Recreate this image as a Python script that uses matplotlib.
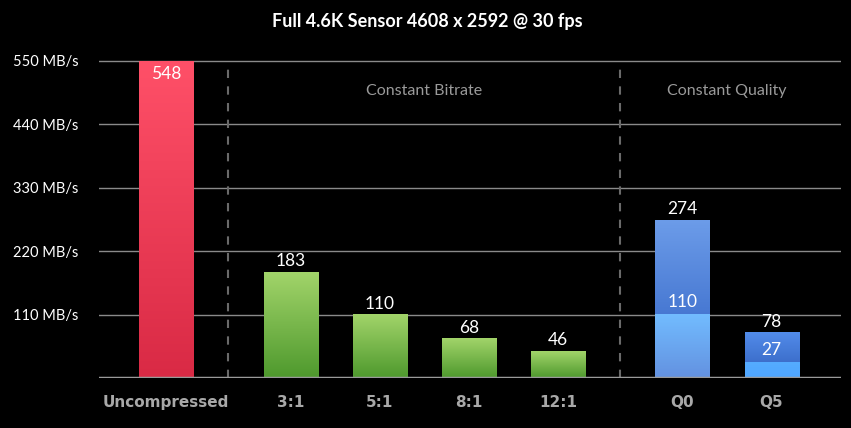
import numpy as np
import matplotlib.pyplot as plt
from matplotlib.colors import LinearSegmentedColormap

plt.rcParams['font.family'] = ['Lato', 'DejaVu Sans']

# data
categories = ['Uncompressed', '3:1', '5:1', '8:1', '12:1', 'Q0', 'Q5']
totals = [548, 183, 110, 68, 46, 274, 78]
lower_parts = [None, None, None, None, None, 110, 27]  # lighter lower segment for Q bars
yticks = [110, 220, 330, 440, 550]
ytick_labels = ['110 MB/s', '220 MB/s', '330 MB/s', '440 MB/s', '550 MB/s']
sections = ['Constant Bitrate', 'Constant Quality']

xpos = [0, 1.4, 2.4, 3.4, 4.4, 5.8, 6.8]
width = 0.607

# gradient colours (top, bottom)
red = ('#ff5068', '#d92a45')
green = ('#a2d46a', '#4e992d')
blue_top = ('#6c9ce9', '#4778d2')
blue_low = ('#72bcff', '#6391e0')
blue_top_q5 = ('#528cea', '#3d6fcc')
blue_low_q5 = ('#55acff', '#4fa6ff')

px_per_unit = 0.577
fig = plt.figure(figsize=(8.51, 4.28), dpi=100, facecolor='black')
ax = fig.add_axes([99/851, 50/428, (841-99)/851, 600*px_per_unit/428])
ax.set_facecolor('black')

xmin, xmax = -0.753, 7.58


def grad_bar(x, y0, y1, cols):
    cmap = LinearSegmentedColormap.from_list('g', [cols[1], cols[0]])
    grad = np.linspace(0, 1, 256).reshape(-1, 1)
    ax.imshow(grad, cmap=cmap, origin='lower', aspect='auto',
              extent=[x - width/2, x + width/2, y0, y1], zorder=3)


for yt in yticks:
    ax.axhline(yt, color='#8a8a8a', lw=1, zorder=1)

for i, (x, v) in enumerate(zip(xpos, totals)):
    if i == 0:
        grad_bar(x, 0, v, red)
        ax.text(x, v - 22, str(v), color='white', ha='center', va='center', fontsize=12.5, zorder=5)
    elif lower_parts[i] is None:
        grad_bar(x, 0, v, green)
        ax.text(x, v + 19, str(v), color='white', ha='center', va='center', fontsize=12.5, zorder=5)
    else:
        lo = lower_parts[i]
        if categories[i] == 'Q0':
            grad_bar(x, lo, v, blue_top)
            grad_bar(x, 0, lo, blue_low)
        else:
            grad_bar(x, lo, v, blue_top_q5)
            grad_bar(x, 0, lo, blue_low_q5)
        ax.text(x, v + 19, str(v), color='white', ha='center', va='center', fontsize=12.5, zorder=5)
        ax.text(x, lo + 21, str(lo), color='white', ha='center', va='center', fontsize=12.5, zorder=5)

ax.set_xlim(xmin, xmax)
ax.set_ylim(0, 600)

# section separators
for sx in [0.7, 5.1]:
    ax.plot([sx, sx], [0, 548], color='#6a6a6a', lw=1.5, ls=(0, (4, 4)), zorder=2)

ax.text(2.9, 498, sections[0], color='#9a9a9a', ha='center', va='center', fontsize=11.5)
ax.text(6.3, 498, sections[1], color='#9a9a9a', ha='center', va='center', fontsize=11.5)

ax.axhline(0, color='#9a9a9a', lw=2.5, zorder=4)

for s in ax.spines.values():
    s.set_visible(False)
ax.set_yticks(yticks)
ax.set_yticklabels(ytick_labels, color='white', fontsize=10.5)
ax.tick_params(axis='y', length=0, pad=15)
ax.set_xticks(xpos)
ax.set_xticklabels(categories, color='#a8a8a8', fontsize=11, fontweight='bold',
                   family=['Liberation Sans Narrow', 'DejaVu Sans'])
ax.tick_params(axis='x', length=0, pad=12)

fig.text(427/851, 1 - 22/428, 'Full 4.6K Sensor 4608 x 2592 @ 30 fps', color='white',
         ha='center', va='center', fontsize=13, fontweight='bold')

fig.savefig('out.png', dpi=100, facecolor='black')
